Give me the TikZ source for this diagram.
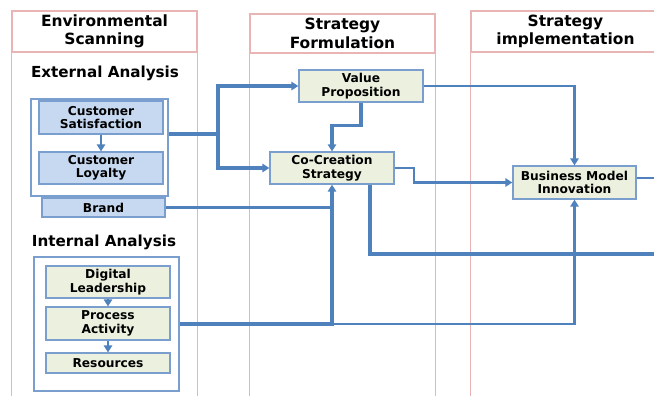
\documentclass[tikz,border=0pt]{standalone}
\usepackage{fontspec}
\setmainfont{DejaVu Sans}
\usetikzlibrary{arrows.meta,calc}

\definecolor{lineblue}{RGB}{79,129,189}
\definecolor{edgeblue}{RGB}{122,158,206}
\definecolor{boxgreen}{RGB}{235,241,222}
\definecolor{boxblue}{RGB}{198,217,241}
\definecolor{framepink}{RGB}{232,180,180}

\begin{document}
\begin{tikzpicture}[x=0.025cm, y=-0.025cm,
    head/.style={draw=framepink, line width=0.8pt, fill=white, align=center,
        inner sep=0pt, font=\fontsize{11}{13}\selectfont\bfseries},
    sub/.style={font=\fontsize{10.8}{12}\selectfont\bfseries},
    group/.style={draw=edgeblue, line width=0.9pt, fill=white, inner sep=0pt},
    bluebox/.style={draw=edgeblue, line width=0.9pt, fill=boxblue, align=center,
        inner sep=0pt, minimum width=3.1cm,
        font=\fontsize{8.7}{9.5}\selectfont\bfseries},
    greenbox/.style={bluebox, fill=boxgreen},
    flow/.style={draw=lineblue, line width=1.5pt},
    flowthick/.style={draw=lineblue, line width=2.2pt},
    tip/.style={-{Triangle[length=5pt, width=6pt]}},
    colline/.style={draw=framepink, line width=0.8pt}]

    \useasboundingbox (0, 0) rectangle (654, 396);
    \clip (0, 0) rectangle (654, 396);

    % column headers and their frames
    \node[head, minimum width=4.625cm, minimum height=1.025cm] (env)
        at (104.5, 31.5) {Environmental\\Scanning};
    \node[head, minimum width=4.625cm, minimum height=0.975cm] (form)
        at (342.5, 33.5) {Strategy\\Formulation};
    \node[head, minimum width=4.725cm, minimum height=1.025cm] (impl)
        at (565.5, 31.5) {Strategy\\implementation};

    \draw[colline] (env.south west) -- ++(0, 350);
    \draw[colline] (env.south east) -- ++(0, 350);
    \draw[colline] (form.south west) -- ++(0, 350);
    \draw[colline] (form.south east) -- ++(0, 350);
    \draw[colline] (impl.south west) -- ++(0, 350);

    % external analysis
    \node[sub] (extlbl) at (105, 73) {External Analysis};
    \node[group, minimum width=3.425cm, minimum height=2.425cm] (extgrp)
        at (99.5, 147.5) {};
    \node[bluebox, minimum height=0.825cm] (sat) at (101, 117.5)
        {Customer\\Satisfaction};
    \node[bluebox, minimum height=0.8cm] (loy) at (101, 168)
        {Customer\\Loyalty};
    \node[bluebox, minimum width=3.075cm, minimum height=0.475cm] (brand)
        at (103.5, 207.5) {Brand};
    \draw[flow, tip] (sat) -- (loy);

    % internal analysis
    \node[sub] (intlbl) at (104, 242) {Internal Analysis};
    \node[group, minimum width=3.625cm, minimum height=3.35cm] (intgrp)
        at (106.5, 324) {};
    \node[greenbox, minimum height=0.8cm] (lead) at (108, 282)
        {Digital\\Leadership};
    \node[greenbox, minimum height=0.825cm] (proc) at (108, 323.5)
        {Process\\Activity};
    \node[greenbox, minimum height=0.5cm] (res) at (108, 363) {Resources};
    \draw[flow, tip] (lead) -- (proc);
    \draw[flow, tip] (proc) -- (res);

    % strategy boxes
    \node[greenbox, minimum height=0.8cm] (vp) at (361, 86)
        {Value\\Proposition};
    \node[greenbox, minimum height=0.8cm] (cocr) at (332, 168)
        {Co-Creation\\Strategy};
    \node[greenbox, minimum width=3.075cm, minimum height=0.825cm] (bmi)
        at (574.5, 182.5) {Business Model\\Innovation};

    \coordinate (split) at (218, 134);
    \coordinate (exitA) at (660, 254);
    \coordinate (exitB) at (660, 178);

    % connectors
    \draw[flowthick] (extgrp.east |- split) -- (split);
    \draw[flowthick, tip] (split) |- (vp.west);
    \draw[flowthick, tip] (split) |- (cocr.west);
    \draw[flowthick, tip] (vp.south) -- ++(0, 23) -| (cocr.north);
    \draw[flow, tip] (vp.east) -| (bmi.north);
    \draw[flow, tip] (cocr.east) -- ++(19, 0) |- (bmi.west);
    \draw[flow] (brand.east) -- (brand.east -| cocr.south);
    \draw[flowthick, tip] (intgrp.east) -| (cocr.south);
    \draw[flow, tip] (cocr.south |- intgrp.east) -| (bmi.south);
    \draw[flowthick] ($(cocr.south) + (38, 0)$) |- (exitA);
    \draw[flow] (bmi.east |- exitB) -- (exitB);

\end{tikzpicture}
\end{document}
